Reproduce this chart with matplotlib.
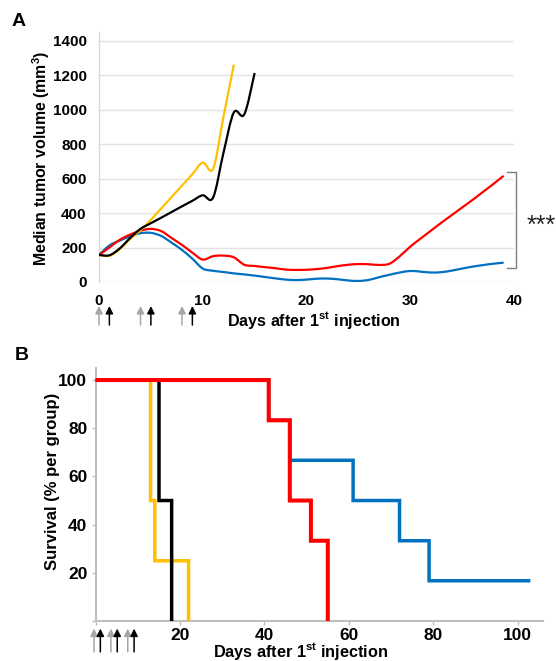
import numpy as np
import matplotlib
matplotlib.use("Agg")
import matplotlib.pyplot as plt
from matplotlib.path import Path
from matplotlib.patches import PathPatch

plt.rcParams['font.family'] = ['Liberation Sans', 'DejaVu Sans']
plt.rcParams['font.weight'] = 'bold'
plt.rcParams['mathtext.fontset'] = 'custom'
plt.rcParams['mathtext.rm'] = 'Liberation Sans:bold'
plt.rcParams['mathtext.bf'] = 'Liberation Sans:bold'
plt.rcParams['mathtext.it'] = 'Liberation Sans:bold'

# ---------------- Panel A data: median tumor volume (mm3) ----------------
yellow_days = [0, 1, 2, 3, 4, 5, 6, 7, 8, 9, 10, 11, 12, 13]
yellow_vol = [157, 152, 190, 250, 300, 361, 427, 493, 559, 625, 693, 657, 960, 1261]

black_days = [0, 1, 2, 3, 4, 5, 6, 7, 8, 9, 10, 11, 12, 13, 14, 15]
black_vol = [157, 155, 195, 255, 308, 341, 373, 406, 439, 471, 503, 490, 750, 984, 972, 1212]

red_days = list(range(0, 40))
red_vol = [157, 200, 245, 275, 298, 308, 295, 255, 215, 170, 130, 150, 153, 143, 100,
           93, 86, 80, 72, 70, 71, 75, 82, 92, 100, 104, 103, 99, 106, 150,
           205, 252, 298, 344, 388, 432, 476, 522, 568, 616]

blue_days = list(range(0, 40))
blue_vol = [157, 212, 240, 265, 283, 285, 267, 228, 186, 135, 78, 65, 58, 50, 44,
            37, 29, 21, 14, 11, 14, 19, 20, 16, 9, 6, 12, 28, 42, 55,
            64, 60, 55, 57, 66, 78, 89, 98, 106, 112]

vol_ticks = [0, 200, 400, 600, 800, 1000, 1200, 1400]
day_ticks_a = [0, 10, 20, 30, 40]

# injections (days)
inj_gray = [0, 4, 8]
inj_black = [1, 5, 9]

# ---------------- Panel B data: survival (%) ----------------
surv_yellow_t = [0, 13, 14, 22]
surv_yellow = [100, 50, 25, 0]
surv_black_t = [0, 15, 18]
surv_black = [100, 50, 0]
surv_red_t = [0, 41, 46, 51, 55]
surv_red = [100, 83.3, 50, 33.3, 0]
surv_blue_t = [0, 41, 46, 61, 72, 79, 103]
surv_blue = [100, 83.3, 66.7, 50, 33.3, 16.7, 16.7]

surv_ticks = [0, 20, 40, 60, 80, 100]
day_ticks_b = [0, 20, 40, 60, 80, 100]

C_YEL = '#FFC000'
C_BLK = '#000000'
C_RED = '#FF0000'
C_BLU = '#0070C0'


def smooth_path(xs, ys):
    """Smoothed line (Bezier, Catmull-Rom control points) through the data points."""
    p = np.column_stack([xs, ys]).astype(float)
    n = len(p)
    verts = [p[0]]
    codes = [Path.MOVETO]
    for i in range(n - 1):
        p0 = p[i - 1] if i > 0 else p[i]
        p1 = p[i]
        p2 = p[i + 1]
        p3 = p[i + 2] if i + 2 < n else p[i + 1]
        verts += [p1 + (p2 - p0) / 6.0, p2 - (p3 - p1) / 6.0, p2]
        codes += [Path.CURVE4] * 3
    return Path(verts, codes)


def arrow(ax, d, y0, y1, color):
    ax.annotate('', xy=(d, y0), xytext=(d, y1), xycoords=('data', 'axes fraction'),
                textcoords=('data', 'axes fraction'), annotation_clip=False,
                arrowprops=dict(arrowstyle='-|>', color=color, lw=1.1,
                                mutation_scale=11, shrinkA=0, shrinkB=0))


W, H = 556, 661
fig = plt.figure(figsize=(W / 100, H / 100), dpi=100)

# ---------------- Panel A ----------------
axA = fig.add_axes([99 / W, 1 - 282 / H, (514 - 99) / W, (282 - 32) / H])
axA.set_xlim(0, 40)
axA.set_ylim(0, 1450)
for v in vol_ticks:
    axA.axhline(v, color='#e4e4e4', lw=1.0, zorder=0)
for s in ['top', 'right', 'bottom']:
    axA.spines[s].set_visible(False)
axA.spines['left'].set_color('#d9d9d9')
axA.spines['left'].set_linewidth(1.0)
axA.set_yticks(vol_ticks)
axA.set_xticks(day_ticks_a)
axA.tick_params(axis='y', length=0, pad=9, labelsize=11)
axA.tick_params(axis='x', length=0, pad=9, labelsize=11)

for xs, ys, c in [(blue_days, blue_vol, C_BLU), (red_days, red_vol, C_RED),
                  (yellow_days, yellow_vol, C_YEL), (black_days, black_vol, C_BLK)]:
    axA.add_patch(PathPatch(smooth_path(xs, ys), fill=False, edgecolor=c,
                            lw=1.6, transform=axA.transData, zorder=3,
                            capstyle='butt', joinstyle='round'))

# significance bracket
bx = 40.15
axA.plot([39.35, bx, bx, 39.35], [637, 637, 79, 79], color='#7f7f7f', lw=1.0,
         clip_on=False, zorder=2)
fig.text(541 / W, 1 - 226 / H, '***', fontsize=18, fontweight='normal',
         ha='center', va='center', color='#222222')

for d in inj_gray:
    arrow(axA, d, -0.096, -0.172, '#a6a6a6')
for d in inj_black:
    arrow(axA, d, -0.096, -0.172, '#000000')

fig.text(314 / W, 1 - 320 / H, 'Days after 1$^{st}$ injection', fontsize=11.6,
         ha='center', va='center')
fig.text(41 / W, 1 - 158 / H, 'Median tumor volume (mm$^{3}$)', fontsize=11.4,
         ha='center', va='center', rotation=90)
fig.text(19 / W, 1 - 21 / H, 'A', fontsize=14, ha='center', va='center')

# ---------------- Panel B ----------------
axB = fig.add_axes([95.7 / W, 1 - 621 / H, (543 - 95.7) / W, (621 - 368) / H])
axB.set_xlim(0, 106)
axB.set_ylim(0, 105)
for s in ['top', 'right']:
    axB.spines[s].set_visible(False)
for s in ['left', 'bottom']:
    axB.spines[s].set_color('#bfbfbf')
    axB.spines[s].set_linewidth(1.5)
axB.set_xticks(day_ticks_b)
axB.set_xticklabels([''] + [str(v) for v in day_ticks_b[1:]])
axB.set_yticks(surv_ticks)
axB.set_yticklabels([''] + [str(v) for v in surv_ticks[1:]])
axB.tick_params(axis='both', length=3, width=1, color='#bfbfbf', labelsize=12.5)
axB.tick_params(axis='x', pad=2)
axB.tick_params(axis='y', pad=3)

for t, s, c, z, lw in [(surv_blue_t, surv_blue, C_BLU, 3, 2.5),
                       (surv_yellow_t, surv_yellow, C_YEL, 4, 2.5),
                       (surv_black_t, surv_black, C_BLK, 5, 2.5),
                       (surv_red_t, surv_red, C_RED, 6, 2.9)]:
    axB.step(t, s, where='post', color=c, lw=lw, clip_on=False, zorder=z,
             solid_joinstyle='miter', solid_capstyle='butt', snap=False)

for d in inj_gray:
    arrow(axB, d - 0.4, -0.03, -0.122, '#a6a6a6')
for d in inj_black:
    arrow(axB, d + 0.1, -0.03, -0.122, '#000000')

fig.text(301 / W, 1 - 652 / H, 'Days after 1$^{st}$ injection', fontsize=11.7,
         ha='center', va='center')
fig.text(53 / W, 1 - 481 / H, 'Survival (% per group)', fontsize=12,
         ha='center', va='center', rotation=90)
fig.text(22 / W, 1 - 355 / H, 'B', fontsize=14, ha='center', va='center')

fig.savefig('out.png', dpi=100)
